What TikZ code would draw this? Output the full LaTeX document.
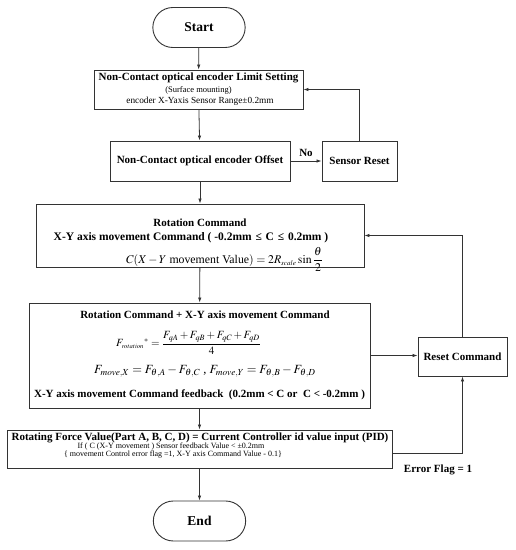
\documentclass[tikz,border=0pt]{standalone}
\usepackage{mathptmx}
\usepackage[no-math]{fontspec}
\setmainfont{Liberation Serif}
\usepackage{amsmath}
\usetikzlibrary{shapes.misc,arrows.meta,calc}
\begin{document}
\begin{tikzpicture}[x=1pt,y=-1pt,
  box/.style={draw=black!80,line width=0.9pt,align=center,inner sep=1pt},
  term/.style={draw=black!80,line width=0.9pt,rounded rectangle,minimum width=99pt,minimum height=40pt,font=\fontsize{13.5}{15}\bfseries},
  conn/.style={draw=black!80,line width=0.8pt,-{Latex[length=5pt,width=3.5pt]}},
  ttl/.style={font=\fontsize{11}{13}\bfseries,inner sep=0pt},
  sml/.style={font=\fontsize{8.5}{10}\selectfont,inner sep=0pt},
  tiny/.style={font=\fontsize{8}{9}\selectfont,inner sep=0pt},
  frm/.style={font=\fontsize{11}{13}\selectfont,inner sep=0pt}]
\useasboundingbox (0,0) rectangle (516,550);
\node[term] (start) at (199,27.5) {Start};
% box 1
\node[box,minimum width=209pt,minimum height=39pt] (b1) at (198.5,89.5) {};
\node[ttl] (t1a) at (198.5,78) {Non-Contact optical encoder Limit Setting};
\node[sml] (t1b) at (198.5,90.5) {(Surface mounting)};
\node[font=\fontsize{9.3}{11}\selectfont,inner sep=0pt] (t1c) at (200,101.5) {encoder X-Yaxis Sensor Range±0.2mm};
% box 2 and sensor reset
\node[box,minimum width=180pt,minimum height=40pt,font=\fontsize{11}{13}\bfseries] (b2) at (200,161) {Non-Contact optical encoder Offset};
\node[box,minimum width=75pt,minimum height=40pt,font=\fontsize{11}{13}\bfseries] (sr) at (359.5,161) {Sensor Reset};
% box 3
\node[box,minimum width=328pt,minimum height=63pt] (b3) at (200,235.5) {};
\node[ttl] (t3a) at (200,222.5) {Rotation Command};
\node[ttl,font=\fontsize{11.5}{13}\bfseries] (t3b) at (191,237.5) {X-Y axis movement Command ( -0.2mm\,\,≤\,\,C\,\,≤\,\,0.2mm )};
\node[font=\fontsize{11.8}{13}\selectfont,inner sep=0pt,anchor=west] (t3c) at (126,259.5) {$C(X-Y\text{ movement Value})=2R_{\scriptscriptstyle scale}\sin\dfrac{\theta}{2}$};
% box 4
\node[box,minimum width=341pt,minimum height=105pt] (b4) at (199.5,355.5) {};
\node[ttl] (t4a) at (205,315) {Rotation Command + X-Y axis movement Command};
\node[frm,anchor=west] (t4b) at (116,343) {$F_{\scriptscriptstyle rotation}{}^{*}=\dfrac{F_{qA}+F_{qB}+F_{qC}+F_{qD}}{4}$};
\node[font=\fontsize{12.5}{14}\selectfont,inner sep=0pt,anchor=west] (t4c) at (94,371) {$F_{move,X}=F_{\theta,A}-F_{\theta,C}$ ,\ $F_{move,Y}=F_{\theta,B}-F_{\theta,D}$};
\node[ttl] (t4d) at (199.5,394.5) {X-Y axis movement Command feedback\ \ (0.2mm < C or\ \ C < -0.2mm )};
\node[box,minimum width=89pt,minimum height=39pt,font=\fontsize{11}{13}\bfseries] (rc) at (462.5,356.5) {Reset Command};
% box 5
\node[box,minimum width=385pt,minimum height=38pt] (b5) at (199.5,449) {};
\node[ttl] (t5a) at (200,437.5) {Rotating Force Value(Part A, B, C, D) = Current Controller id value input (PID)};
\node[tiny] (t5b) at (171,446.5) {If ( C (X-Y movement ) Sensor feedback Value < ±0.2mm};
\node[tiny] (t5c) at (173,455) {\{ movement Control error flag =1, X-Y axis Command Value - 0.1\}};
\node[term] (end) at (199.5,521) {End};
% connectors
\draw[conn] (start) -- (b1);
\draw[conn] (b1) -- (b2);
\draw[conn] (b2) -- node[above,font=\fontsize{11}{13}\bfseries,yshift=1pt] (no) {No} (sr);
\draw[conn] (sr.north) |- (b1.east);
\draw[conn] (b2) -- (b3);
\draw[conn] (b3) -- (b4);
\draw[conn] (b4.east) -- (rc.west |- b4.east);
\draw[conn] (rc.north) |- (b3.east);
\draw[conn] (b4) -- (b5);
\draw[conn] ([yshift=-4pt]b5.east) -| (rc.south);
\draw[conn] (b5) -- (end);
\node[font=\fontsize{11}{13}\bfseries] (ef) at (438,470) {Error Flag = 1};
\end{tikzpicture}
\end{document}
